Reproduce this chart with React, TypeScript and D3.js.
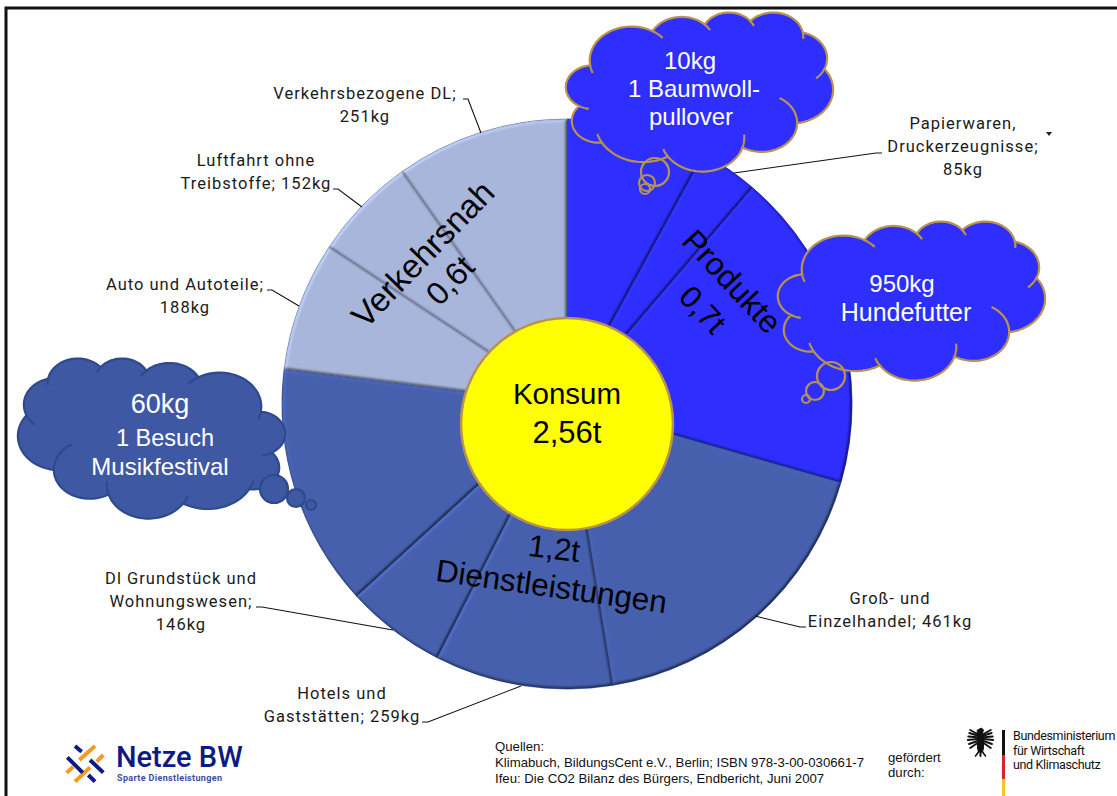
import * as d3 from 'd3'

// slices clockwise from 12 o'clock, values in kg CO2
const sliceNames = ['Elektronik', 'Papierwaren', 'Sonstige Produkte', 'Groß- und Einzelhandel', 'Hotels und Gaststätten', 'Dl Grundstück und Wohnungswesen', 'Sonstige DL', 'Auto und Autoteile', 'Luftfahrt ohne Treibstoffe', 'Verkehrsbezogene DL']
const sliceValues = [204, 85, 466, 461, 259, 146, 352, 188, 152, 251]
const sliceGroups = ['produkte', 'produkte', 'produkte', 'dienst', 'dienst', 'dienst', 'dienst', 'verkehr', 'verkehr', 'verkehr']

const groupNames = ['produkte', 'dienst', 'verkehr']
const groupColors = ['#2E2EFF', '#4660AE', '#A8B6DB']
const seamColors = ['#2020C8', '#364C8E', '#7F8CAE']

const W = 1117
const H = 796
const cx = 567
const cy = 404
const outerR = 285

const color = d3.scaleOrdinal<string, string>().domain(groupNames).range(groupColors)
const seam = d3.scaleOrdinal<string, string>().domain(groupNames).range(seamColors)
const arcs = d3.pie<number>().sort(null).value(d => d)(sliceValues)
const arcGen = d3.arc<d3.PieArcDatum<number>>().innerRadius(0).outerRadius(outerR)

const labelFont = 'Roboto, sans-serif'
const arial = '"Liberation Sans", Arial, sans-serif'

const calloutLabels = [
  { lines: ['Verkehrsbezogene DL;', '251kg'], x: 365, y: 99, leader: [[463, 99], [468, 99], [481, 133]] },
  { lines: ['Luftfahrt ohne', 'Treibstoffe; 152kg'], x: 256, y: 166, leader: [[333, 189], [338, 189], [362, 207]] },
  { lines: ['Auto und Autoteile;', '188kg'], x: 185, y: 290, leader: [[267, 290], [272, 290], [299, 306]] },
  { lines: ['Dl Grundstück und', 'Wohnungswesen;', '146kg'], x: 181, y: 584, leader: [[256, 607], [262, 607], [393, 630]] },
  { lines: ['Hotels und', 'Gaststätten; 259kg'], x: 342, y: 699, leader: [[422, 722], [428, 722], [521, 686]] },
  { lines: ['Groß- und', 'Einzelhandel; 461kg'], x: 890, y: 604, leader: [[806, 627], [800, 627], [755, 616]] },
  { lines: ['Papierwaren,', 'Druckerzeugnisse;', '85kg'], x: 963, y: 129, leader: [[882, 153], [876, 153], [734, 173]] },
]

// PowerPoint "cloud" preset outline: start point + [wR, hR, stAng, swAng]
const cloudStart = [3900, 14370]
const cloudLobes = [
  [6753, 9190, -11429249, 7426832],
  [5333, 7267, -8646143, 5396714],
  [4365, 5945, -8748475, 5983381],
  [4857, 6595, -7859164, 7034504],
  [5333, 7273, -4722533, 6541615],
  [6775, 9220, -2776035, 7816140],
  [5785, 7867, 37501, 6842000],
  [6752, 9215, 1347096, 6910353],
  [7720, 10543, 3974558, 4542661],
  [4360, 5918, -16496525, 8804134],
  [4345, 5945, -14809710, 9151131],
]
// inner tick marks: lobe index, degrees past its end (+) or before its start (-)
const cloudTicks = [
  [0, 18], [0, -14], [1, 15], [2, 15], [3, 15], [4, 25], [6, -60], [7, -22], [7, 14], [8, 14], [10, -22],
]

const deg = Math.PI / 180

function cloudGeometry() {
  let [px, py] = cloudStart
  const outline: number[][] = []
  const ticks: number[][][] = []
  cloudLobes.forEach(([wR, hR, st, sw], i) => {
    const a0 = (st / 60000) * deg
    const a1 = ((st + sw) / 60000) * deg
    const t0 = Math.atan2(wR * Math.sin(a0), hR * Math.cos(a0))
    let t1 = Math.atan2(wR * Math.sin(a1), hR * Math.cos(a1))
    while (t1 < t0) t1 += 2 * Math.PI
    const ox = px - wR * Math.cos(t0)
    const oy = py - hR * Math.sin(t0)
    const at = (t: number) => [ox + wR * Math.cos(t), oy + hR * Math.sin(t)]
    d3.range(25).forEach(k => outline.push(at(t0 + ((t1 - t0) * k) / 24)))
    cloudTicks.filter(t => t[0] === i).forEach(tick => {
      const ext = tick[1] * deg
      const from = ext > 0 ? t1 : t0 + ext
      const to = ext > 0 ? t1 + ext : t0
      ticks.push(d3.range(13).map(k => at(from + ((to - from) * k) / 12)))
    })
    ;[px, py] = at(t1)
  })
  return { outline, ticks }
}

const cloudGeo = cloudGeometry()

function Cloud({ x, y, w, h, flip, fill, stroke }: { x: number; y: number; w: number; h: number; flip?: boolean; fill: string; stroke: string }) {
  const sx = d3.scaleLinear().domain([0, 43200]).range(flip ? [x + w, x] : [x, x + w])
  const sy = d3.scaleLinear().domain([0, 43200]).range([y, y + h])
  const line = d3.line<number[]>().x(d => sx(d[0])).y(d => sy(d[1]))
  return (
    <g fill="none" stroke={stroke} strokeWidth={2.2}>
      <path d={(line(cloudGeo.outline) ?? '') + 'Z'} fill={fill} />
      {cloudGeo.ticks.map((t, i) => <path key={i} d={line(t) ?? ''} />)}
    </g>
  )
}

const clouds = [
  { x: 566, y: 12, w: 267, h: 159, fill: '#2E2EFF', stroke: '#B8924F', flip: false, bubbles: [[655, 172, 14], [647, 183, 8], [645, 189, 5]] },
  { x: 778, y: 221, w: 267, h: 159, fill: '#2E2EFF', stroke: '#B8924F', flip: false, bubbles: [[831, 376, 14], [815, 391, 9], [806, 399, 4]] },
  { x: 18, y: 358, w: 267, h: 160, fill: '#3F58A3', stroke: '#2F4A8C', flip: true, bubbles: [[274, 489, 14], [296, 498, 9], [311, 505, 5]] },
]

const cloudTexts = [
  { t: '10kg', x: 690, y: 69, s: 24 },
  { t: '1 Baumwoll-', x: 694, y: 97, s: 24 },
  { t: 'pullover', x: 691, y: 125, s: 24 },
  { t: '950kg', x: 902, y: 292, s: 24 },
  { t: 'Hundefutter', x: 906, y: 321, s: 25 },
  { t: '60kg', x: 160, y: 413, s: 27 },
  { t: '1 Besuch', x: 165, y: 446, s: 23.5 },
  { t: 'Musikfestival', x: 160, y: 475, s: 24 },
]

const pieTexts = [
  { t: 'Verkehrsnah', x: 431, y: 262, r: -46, s: 33.5 },
  { t: '0,6t', x: 458, y: 288, r: -46, s: 32 },
  { t: 'Produkte', x: 724, y: 289, r: 47, s: 32 },
  { t: '0,7t', x: 695, y: 317, r: 47, s: 31 },
  { t: '1,2t', x: 553, y: 559, r: 7, s: 31 },
  { t: 'Dienstleistungen', x: 550, y: 597, r: 8, s: 31.5 },
]

const sourceLines = ['Quellen:', 'Klimabuch, BildungsCent e.V., Berlin; ISBN 978-3-00-030661-7', 'Ifeu: Die CO2 Bilanz des Bürgers, Endbericht, Juni 2007']
const ministryLines = ['Bundesministerium', 'für Wirtschaft', 'und Klimaschutz']

function NetzeLogo() {
  const navy = [[105, 48, 125, 65], [82, 82, 128, 128], [150, 90, 190, 128], [145, 135, 165, 155]]
  const orange = [[118, 90, 165, 48], [170, 95, 190, 75], [80, 128, 100, 110], [105, 155, 150, 112]]
  return (
    <g>
      <g transform="translate(40,730) scale(0.3333)" strokeWidth={12}>
        {orange.map((l, i) => <line key={i} x1={l[0]} y1={l[1]} x2={l[2]} y2={l[3]} stroke="#F59A23" />)}
        {navy.map((l, i) => <line key={i} x1={l[0]} y1={l[1]} x2={l[2]} y2={l[3]} stroke="#0D1A85" />)}
      </g>
      <text x={116} y={767} fontFamily={labelFont} fontWeight={500} fontSize={29} fill="#0D1A85">Netze BW</text>
      <text x={117} y={781} fontFamily={labelFont} fontWeight={700} fontSize={9} letterSpacing={0.35} fill="#3E4B9E">Sparte Dienstleistungen</text>
    </g>
  )
}

function Eagle() {
  return (
    <g transform="translate(980.5,742)" fill="#111" stroke="#111" strokeLinecap="round">
      <path d="M-3,-12 L1,-14 L3,-12 L2,-9 L3,-4 L3,6 L2,10 L-2,10 L-3,6 L-3,-4 Z" />
      {[-12, -9, -5.5, -2, 2, 6].map((dy, i) => (
        <g key={i}>
          <line x1={3} y1={dy / 2 - 2} x2={13 - Math.abs(dy + 3) * 0.3} y2={dy} strokeWidth={1.9} />
          <line x1={-3} y1={dy / 2 - 2} x2={-13 + Math.abs(dy + 3) * 0.3} y2={dy} strokeWidth={1.9} />
        </g>
      ))}
      <line x1={-2} y1={10} x2={-5} y2={14} strokeWidth={1.6} />
      <line x1={2} y1={10} x2={5} y2={14} strokeWidth={1.6} />
      <line x1={0} y1={8} x2={0} y2={14} strokeWidth={2} />
    </g>
  )
}

export default function App() {
  return (
    <svg width={W} height={H} style={{ position: 'absolute', left: 0, top: 0, background: '#fff' }}>
      <defs>
        <filter id="bevel" colorInterpolationFilters="sRGB" x="-5%" y="-5%" width="110%" height="110%">
          <feGaussianBlur in="SourceAlpha" stdDeviation="1.6" result="blur" />
          <feDiffuseLighting in="blur" surfaceScale="2.5" diffuseConstant="0.9" lightingColor="#fff" result="diff">
            <feDistantLight azimuth="225" elevation="55" />
          </feDiffuseLighting>
          <feComposite in="SourceGraphic" in2="diff" operator="arithmetic" k1="0.8" k2="0.41" k3="0" k4="0" result="lit" />
          <feComposite in="lit" in2="SourceAlpha" operator="in" />
        </filter>
      </defs>

      <path d={`M6,${H}V8H${W}`} fill="none" stroke="#111" strokeWidth={3} />

      <g transform={`translate(${cx},${cy})`}>
        {/* flat layer under the lit slices so the joins between them stay closed */}
        {arcs.map((a, i) => (
          <path key={sliceNames[i]} d={arcGen(a) ?? ''} fill={seam(sliceGroups[i])} stroke={seam(sliceGroups[i])} strokeWidth={0.8} />
        ))}
        {arcs.map((a, i) => (
          <path key={sliceNames[i]} d={arcGen(a) ?? ''} fill={color(sliceGroups[i])} filter="url(#bevel)" />
        ))}
      </g>

      <circle cx={567} cy={424} r={106} fill="#FFFF00" stroke="#B8924F" strokeWidth={2.5} />
      <text x={567} y={404} textAnchor="middle" fontFamily={arial} fontSize={29.5} fill="#000">Konsum</text>
      <text x={567} y={443} textAnchor="middle" fontFamily={arial} fontSize={31} fill="#000">2,56t</text>

      {pieTexts.map(p => (
        <text key={p.t} transform={`translate(${p.x},${p.y}) rotate(${p.r})`} textAnchor="middle" fontFamily={arial} fontSize={p.s} fill="#000">{p.t}</text>
      ))}

      {calloutLabels.map(l => (
        <g key={l.lines[0]}>
          <text textAnchor="middle" fontFamily={labelFont} fontSize={16.5} letterSpacing={1} fill="#1a1a1a">
            {l.lines.map((s, i) => <tspan key={s} x={l.x} y={l.y + i * 23}>{s}</tspan>)}
          </text>
          <path d={d3.line()(l.leader as [number, number][]) ?? ''} fill="none" stroke="#111" strokeWidth={1.1} />
        </g>
      ))}

      {clouds.map((c, i) => (
        <g key={i}>
          <Cloud {...c} />
          {c.bubbles.map((b, j) => (
            <circle key={j} cx={b[0]} cy={b[1]} r={b[2]} fill={c.fill} fillOpacity={c.flip ? 1 : 0} stroke={c.stroke} strokeWidth={2.2} />
          ))}
        </g>
      ))}

      {cloudTexts.map(t => (
        <text key={t.t} x={t.x} y={t.y} textAnchor="middle" fontFamily={arial} fontSize={t.s} fill="#fff">{t.t}</text>
      ))}

      <path d="M1046,132l6,0l-3,4Z" fill="#222" />

      <NetzeLogo />

      <text fontFamily={arial} fontSize={13.2} fill="#111">
        {sourceLines.map((s, i) => <tspan key={s} x={495} y={751 + i * 16}>{s}</tspan>)}
      </text>
      <text fontFamily={arial} fontSize={13.2} fill="#111">
        <tspan x={888} y={762}>gefördert</tspan>
        <tspan x={888} y={777}>durch:</tspan>
      </text>

      <Eagle />
      <rect x={1002} y={730} width={3} height={25} fill="#111" />
      <rect x={1002} y={755} width={3} height={24} fill="#D9232E" />
      <rect x={1002} y={779} width={3} height={17} fill="#F2C81E" />
      <text fontFamily={labelFont} fontSize={12.5} letterSpacing={-0.35} fill="#111">
        {ministryLines.map((s, i) => <tspan key={s} x={1013} y={740 + i * 14.5}>{s}</tspan>)}
      </text>
    </svg>
  )
}
